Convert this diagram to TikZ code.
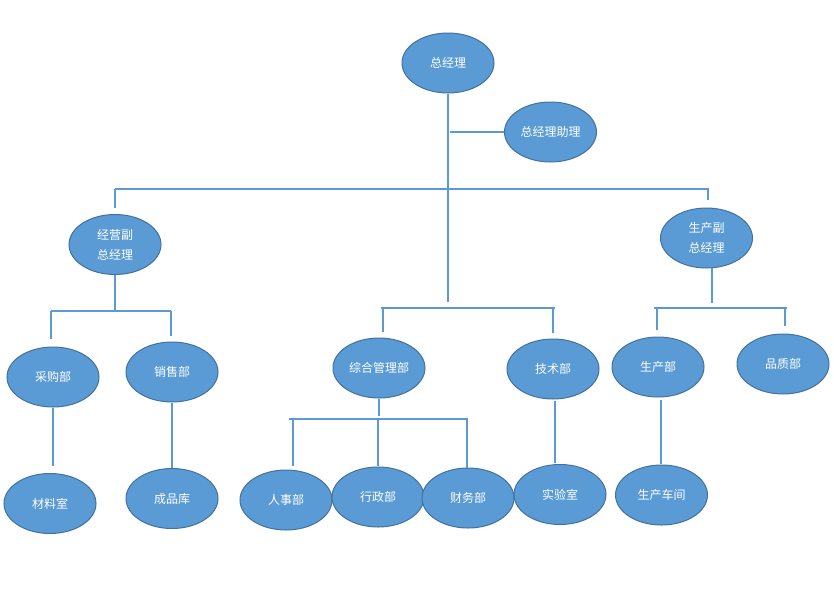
\documentclass[tikz,border=0pt]{standalone}
\usepackage{fontspec}
\newfontfamily\cjk{Noto Sans CJK SC}
\usetikzlibrary{shapes.geometric}
\definecolor{boxfill}{HTML}{5B9BD5}
\definecolor{boxedge}{HTML}{41719C}
\definecolor{linec}{HTML}{5B9BD5}
\begin{document}
\begin{tikzpicture}[x=0.75pt,y=-0.75pt,
  org/.style={ellipse, draw=boxedge, fill=boxfill, line width=0.75pt,
    minimum width=69pt, minimum height=45pt, inner sep=0pt, text=white,
    font=\cjk\fontsize{9}{15}\selectfont, align=center},
  link/.style={draw=linec, line width=1pt}]
\useasboundingbox (0,0) rectangle (834,603);
% nodes
\node[org] (ceo)  at (448,63)     {总经理};
\node[org] (asst) at (550.5,132)  {总经理助理};
\node[org] (vp1)  at (115,244.5)  {经营副\\总经理};
\node[org] (vp2)  at (706.5,238)  {生产副\\总经理};
\node[org] (cg)   at (53,377)     {采购部};
\node[org] (xs)   at (172,372)    {销售部};
\node[org] (zh)   at (379,368)    {综合管理部};
\node[org] (js)   at (553,369)    {技术部};
\node[org] (sc)   at (658,367)    {生产部};
\node[org] (pz)   at (783,364)    {品质部};
\node[org] (cl)   at (50,503.5)   {材料室};
\node[org] (cp)   at (172,498.5)  {成品库};
\node[org] (rs)   at (286,500)    {人事部};
\node[org] (xz)   at (378,497)    {行政部};
\node[org] (cw)   at (468,498)    {财务部};
\node[org] (sy)   at (560,494.5)  {实验室};
\node[org] (scj)  at (661.5,495)  {生产车间};
% coordinates
\coordinate (ceoend) at (448,302);
\coordinate (asj) at (450,132);
\coordinate (tl) at (115,189);
\coordinate (tr) at (708,189);
\coordinate (tlt) at (115,208);
\coordinate (trt) at (708,200);
\coordinate (trs) at (708,188);
\coordinate (vp1end) at (115,312);
\coordinate (b1l) at (51,311);
\coordinate (b1r) at (171,311);
\coordinate (b1lt) at (51,339);
\coordinate (b1rt) at (171,336);
\coordinate (cgend) at (53,466);
\coordinate (b2l) at (381,308);
\coordinate (b2r) at (555,308);
\coordinate (b2a) at (383,308);
\coordinate (b2at) at (383,332);
\coordinate (b2b) at (553,308);
\coordinate (b2bt) at (553,333);
\coordinate (zhend) at (379,416);
\coordinate (b3l) at (289,419);
\coordinate (b3r) at (468,419);
\coordinate (b3a) at (293,419);
\coordinate (b3at) at (293,466);
\coordinate (b3b) at (378,419);
\coordinate (b3bt) at (378,466);
\coordinate (b3c) at (467,419);
\coordinate (b3ct) at (467,468);
\coordinate (jss) at (555,401);
\coordinate (jsend) at (555,463);
\coordinate (vp2s) at (712,268);
\coordinate (vp2end) at (712,303);
\coordinate (b4l) at (654,308);
\coordinate (b4r) at (787,308);
\coordinate (b4a) at (657,308);
\coordinate (b4at) at (657,330);
\coordinate (b4b) at (785,308);
\coordinate (b4bt) at (785,326);
\coordinate (scs) at (661,400);
\coordinate (scend) at (661,464);
% connectors
\draw[link] (ceo.south) -- (ceoend);
\draw[link] (asj) -- (asst.west);
\draw[link] (tl) -- (tr);
\draw[link] (tl) -- (tlt);
\draw[link] (trs) -- (trt);
\draw[link] (vp1.south) -- (vp1end);
\draw[link] (b1l) -- (b1r);
\draw[link] (b1l) -- (b1lt);
\draw[link] (b1r) -- (b1rt);
\draw[link] (cg.south) -- (cgend);
\draw[link] (xs.south) -- (cp.north);
\draw[link] (b2l) -- (b2r);
\draw[link] (b2a) -- (b2at);
\draw[link] (b2b) -- (b2bt);
\draw[link] (zh.south) -- (zhend);
\draw[link] (b3l) -- (b3r);
\draw[link] (b3a) -- (b3at);
\draw[link] (b3b) -- (b3bt);
\draw[link] (b3c) -- (b3ct);
\draw[link] (jss) -- (jsend);
\draw[link] (vp2s) -- (vp2end);
\draw[link] (b4l) -- (b4r);
\draw[link] (b4a) -- (b4at);
\draw[link] (b4b) -- (b4bt);
\draw[link] (scs) -- (scend);
\end{tikzpicture}
\end{document}
